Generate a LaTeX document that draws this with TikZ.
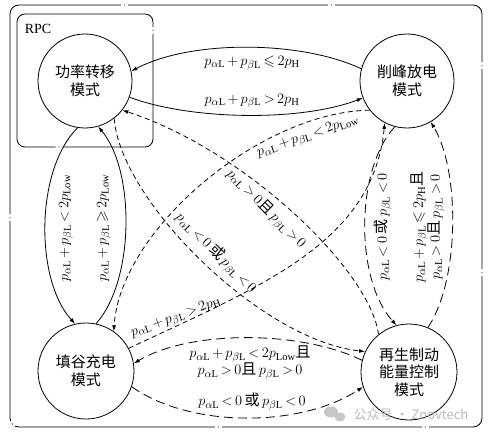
\documentclass[tikz,border=0pt]{standalone}
\usepackage{amssymb}
\usepackage{fontspec}
\setmainfont{Liberation Serif}
\newfontfamily\cjk{Noto Sans CJK SC}
\usetikzlibrary{arrows.meta}
\newcommand{\pa}{p_{\alpha\mathrm{L}}}
\newcommand{\pb}{p_{\beta\mathrm{L}}}
\medmuskip=2.5mu
\thickmuskip=3mu
\begin{document}
\begin{tikzpicture}[x=1pt,y=-1pt,
  state/.style={circle,draw,line width=0.8pt,minimum size=94pt,inner sep=0pt,align=center,font=\cjk\fontsize{15}{17.5}\selectfont},
  conn/.style={line width=0.8pt,-{Latex[length=6pt,width=4pt]}},
  dsh/.style={conn,dash pattern=on 5pt off 3.5pt},
  ldsh/.style={conn,dash pattern=on 9pt off 5pt},
  lbl/.style={font=\fontsize{15}{17}\selectfont,inner sep=1pt,align=center},
  frame/.style={line width=0.8pt,rounded corners=9pt,dash pattern=on 200pt off 3pt on 1pt off 3pt}]
\useasboundingbox (0,0) rectangle (488,436);
% frames
\draw[frame] (10,5) rectangle (482,427);
\draw[frame,rounded corners=8pt,dash phase=40pt] (17,14) rectangle (153,147);
\node[font=\fontsize{14}{16}\selectfont,inner sep=0pt] (rpc) at (38,29) {RPC};
% states
\node[state] (A) at (85,81) {功率转移\\模式};
\node[state] (B) at (407,81) {削峰放电\\模式};
\node[state,minimum size=96pt] (C) at (86,371) {填谷充电\\模式};
\node[state,minimum size=96pt] (D) at (409,372) {再生制动\\能量控制\\模式};
% A <-> B
\draw[conn] (B.165) .. controls (300,40) and (190,40) .. (A.12);
\node[lbl] (l1) at (252,63) {$\pa+\pb\leqslant 2p_{\mathrm{H}}$};
\draw[conn] (A.-20) .. controls (190,120) and (300,122) .. (B.201);
\node[lbl] (l2) at (252,101) {$\pa+\pb> 2p_{\mathrm{H}}$};
% A <-> C
\draw[conn] (A.-99) .. controls (35,170) and (35,280) .. (C.103);
\node[lbl,rotate=90] (l3) at (66,228) {$\pa+\pb<2p_{\mathrm{Low}}$};
\draw[conn] (C.78) .. controls (135,280) and (135,170) .. (A.-74);
\node[lbl,rotate=90] (l4) at (104,228) {$\pa+\pb\geqslant 2p_{\mathrm{Low}}$};
% diagonals
\draw[dsh] (B.218) .. controls (260,112) and (120,230) .. (C.55);
\node[lbl,rotate=19] (l5) at (308,137) {$\pa+\pb<2p_{\mathrm{Low}}$};
\draw[dsh] (C.28) .. controls (264,285) and (373,242) .. (B.242);
\node[lbl,rotate=20] (l6) at (176,318) {$\pa+\pb>2p_{\mathrm{H}}$};
\draw[dsh] (A.-52) .. controls (120,200) and (260,340) .. (D.155);
\node[lbl,rotate=-45] (l7) at (216,253) {$\pa<0$\,{\cjk 或}\,$\pb<0$};
\draw[dsh] (D.129) .. controls (370,270) and (245,150) .. (A.-38);
\node[lbl,rotate=-45] (l8) at (266,209) {$\pa>0${\cjk 且}\,$\pb>0$};
% B <-> D
\draw[ldsh] (B.-105) .. controls (355,170) and (355,280) .. (D.105);
\node[lbl,rotate=90] (l9) at (383,227) {$\pa<0$\,{\cjk 或}\,$\pb<0$};
\draw[ldsh] (D.67) .. controls (460,280) and (460,170) .. (B.-60);
\node[lbl,rotate=90] (l10) at (428,227) {$\pa+\pb\leqslant 2p_{\mathrm{H}}${\cjk 且}\\$\pa>0${\cjk 且}\,$\pb>0$};
% C <-> D
\draw[ldsh] (D.166) .. controls (300,330) and (190,330) .. (C.9);
\node[lbl] (l11) at (250,363) {$\pa+\pb<2p_{\mathrm{Low}}${\cjk 且}\\$\pa>0${\cjk 且}\,$\pb>0$};
\draw[ldsh] (C.-19) .. controls (190,428) and (300,428) .. (D.198);
\node[lbl] (l12) at (252,402) {$\pa<0$\,{\cjk 或}\,$\pb<0$};
% watermark
\fill[gray!45] (331,412) ellipse (7 and 5.5);
\fill[gray!45] (340,417) ellipse (5.5 and 4.5);
\node[text=gray!55,font=\cjk\fontsize{13}{15}\selectfont,inner sep=0pt] (wm) at (411,415) {公众号 · Znovtech};
\end{tikzpicture}
\end{document}
